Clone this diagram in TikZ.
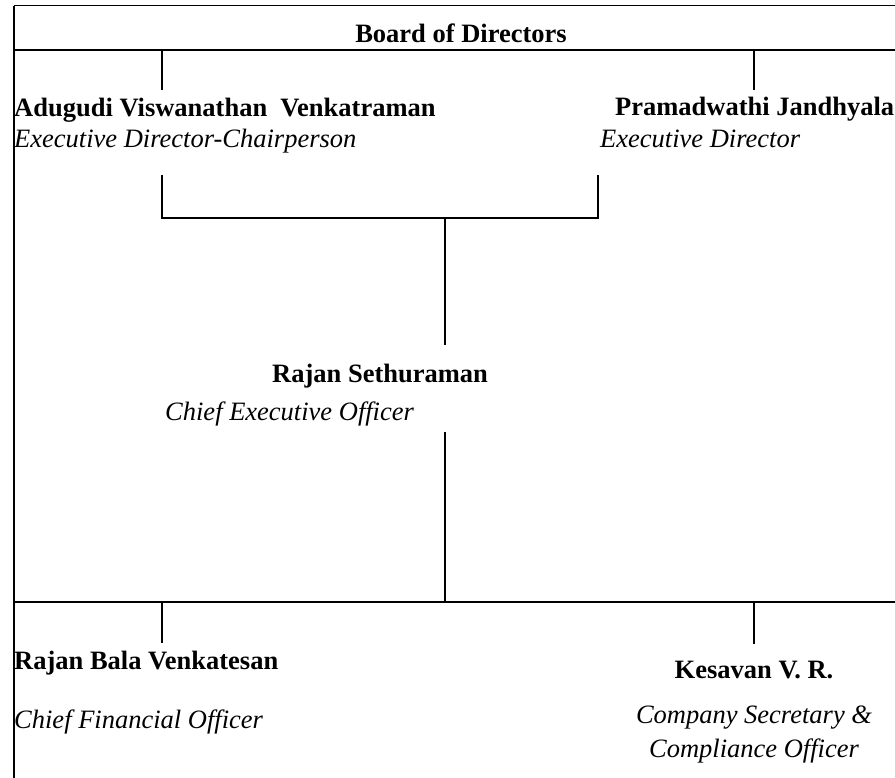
\documentclass[tikz,border=0pt]{standalone}
\usepackage{fontspec}
\setmainfont{Liberation Serif}
\frenchspacing
\begin{document}
\begin{tikzpicture}[x=1pt,y=-1pt,
  thickline/.style={line width=2.2pt},
  bname/.style={font=\fontsize{26.5}{30}\selectfont\bfseries, inner sep=0pt},
  role/.style={font=\fontsize{26.5}{30}\selectfont\itshape, inner sep=0pt}]
\useasboundingbox (0,0) rectangle (895,778);
% frame
\coordinate (tl) at (14,6); \coordinate (tr) at (895,6);
\coordinate (bl) at (14,778);
\draw[line width=1pt] (tl) -- (tr);
\draw[line width=2pt] (tl) -- (bl);
% texts
\node[bname, anchor=base] (board) at (461,43) {Board of Directors};
\node[bname, anchor=base west] (avv) at (14,117) {Adugudi Viswanathan\ \ Venkatraman};
\node[role, anchor=base west] (avvr) at (14,148) {Executive Director-Chairperson};
\node[bname, anchor=base west] (pj) at (615,116) {Pramadwathi Jandhyala};
\node[role, anchor=base west] (pjr) at (600,148) {Executive Director};
\node[bname, anchor=base west] (rs) at (272,382) {Rajan Sethuraman};
\node[role, anchor=base west] (rsr) at (165,420) {Chief Executive Officer};
\node[bname, anchor=base west] (rbv) at (14,669) {Rajan Bala Venkatesan};
\node[role, anchor=base west] (rbvr) at (14,728) {Chief Financial Officer};
\node[bname, anchor=base] (kvr) at (754,678) {Kesavan V. R.};
\node[role, anchor=base] (kvr1) at (754,723) {Company Secretary \&};
\node[role, anchor=base] (kvr2) at (754,757) {Compliance Officer};
% connector coordinates
\coordinate (bdl) at (14,50); \coordinate (bdr) at (895,50);
\coordinate (t1a) at (162,50); \coordinate (t1b) at (162,90);
\coordinate (t2a) at (754,50); \coordinate (t2b) at (754,90);
\coordinate (ba) at (162,175); \coordinate (bb) at (162,218);
\coordinate (bc) at (598,218); \coordinate (bd) at (598,175);
\coordinate (ca) at (445,218); \coordinate (cb) at (445,345);
\coordinate (cc) at (445,432); \coordinate (cd) at (445,602);
\coordinate (lwl) at (14,602); \coordinate (lwr) at (895,602);
\coordinate (t3a) at (162,602); \coordinate (t3b) at (162,643);
\coordinate (t4a) at (754,602); \coordinate (t4b) at (754,644);
% connectors
\draw[thickline] (bdl) -- (bdr);
\draw[thickline] (t1a) -- (t1b);
\draw[thickline] (t2a) -- (t2b);
\draw[thickline] (ba) -- (bb) -- (bc) -- (bd);
\draw[thickline] (ca) -- (cb);
\draw[thickline] (cc) -- (cd);
\draw[thickline] (lwl) -- (lwr);
\draw[thickline] (t3a) -- (t3b);
\draw[thickline] (t4a) -- (t4b);
\end{tikzpicture}
\end{document}
